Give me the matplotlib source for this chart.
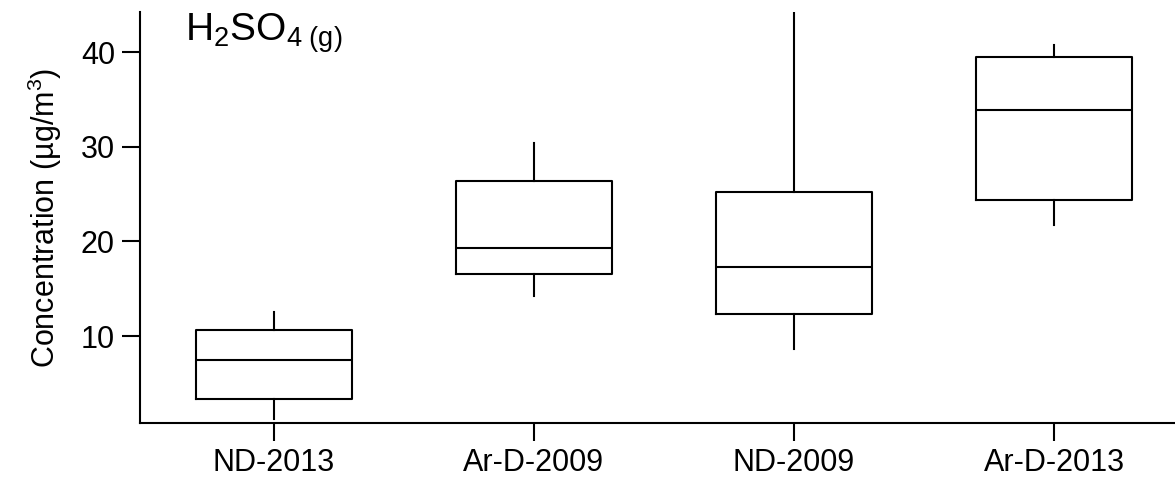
import numpy as np
from matplotlib import pyplot as plt

plt.rcParams['font.family'] = ['Liberation Sans', 'DejaVu Sans']
plt.rcParams['mathtext.fontset'] = 'custom'
plt.rcParams['mathtext.rm'] = 'Liberation Sans'
plt.rcParams['mathtext.it'] = 'Liberation Sans:italic'

# data
sites = ['ND-2013', 'Ar-D-2009', 'ND-2009', 'Ar-D-2013']
whis_lo = [1.2, 14.2, 8.6, 21.7]
q1 = [3.3, 16.6, 12.3, 24.4]
med = [7.5, 19.3, 17.3, 33.9]
q3 = [10.6, 26.4, 25.2, 39.5]
whis_hi = [12.5, 30.4, 50.0, 40.8]

stats = []
for i in range(len(sites)):
    stats.append({'label': sites[i], 'whislo': whis_lo[i], 'q1': q1[i],
                  'med': med[i], 'q3': q3[i], 'whishi': whis_hi[i]})

fig = plt.figure(figsize=(11.75, 4.86), dpi=100)
ax = fig.add_axes([140/1175, 1-423.3/486, 1-140/1175, (423.3-11.7)/486])

lw = 1.5
pos = np.arange(len(sites))
ax.bxp(stats, positions=pos, widths=0.6, showcaps=False, showfliers=False,
       boxprops=dict(color='black', linewidth=lw),
       whiskerprops=dict(color='black', linewidth=lw),
       medianprops=dict(color='black', linewidth=lw))

ax.set_xlim(-0.515, 3.465)
ax.set_ylim(0.77, 44.3)
ax.set_xticks(pos)
ax.set_xticklabels(sites)
ax.set_yticks([10, 20, 30, 40])

for s in ['top', 'right']:
    ax.spines[s].set_visible(False)
for s in ['left', 'bottom']:
    ax.spines[s].set_linewidth(lw)

ax.tick_params(direction='out', length=13, width=lw, labelsize=22, pad=5)
ax.set_ylabel('Concentration (µg/m$^{3}$)', fontsize=22, labelpad=12)

ax.text(0.043, 1.0, r'$\mathrm{H_2SO_{4\ (g)}}$', transform=ax.transAxes,
        fontsize=28, va='top', ha='left')

fig.savefig('out.png', dpi=100)
